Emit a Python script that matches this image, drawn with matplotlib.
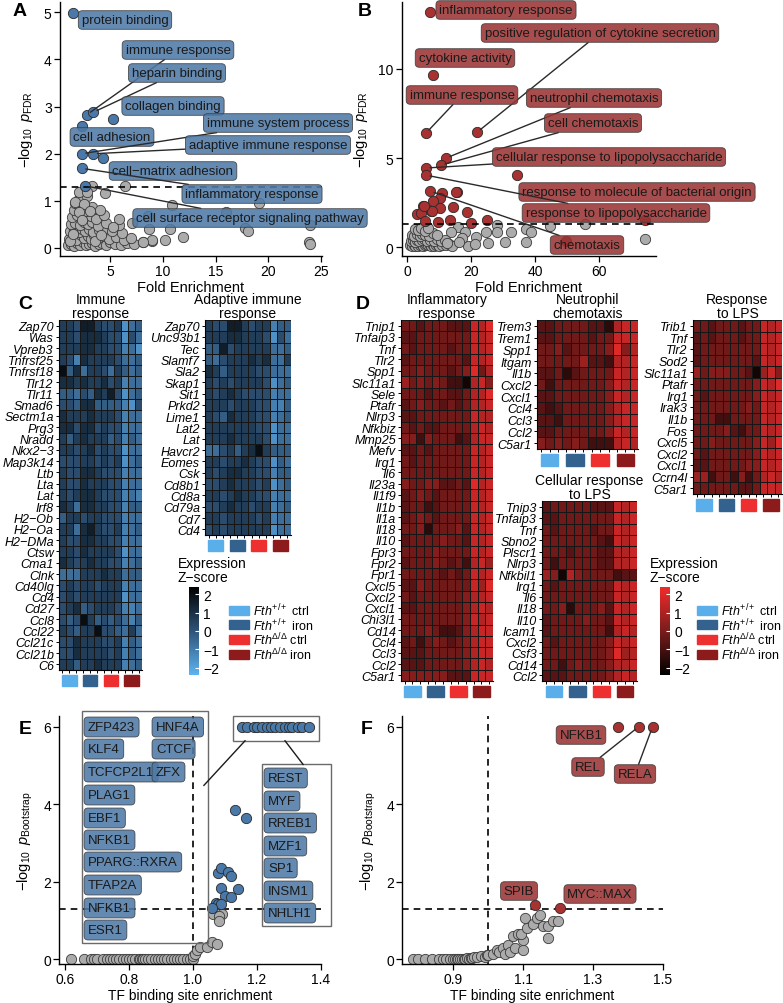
import matplotlib
matplotlib.use('Agg')
import matplotlib.pyplot as plt
import numpy as np
from matplotlib.colors import LinearSegmentedColormap, Normalize
from matplotlib.cm import ScalarMappable
from matplotlib.patches import Rectangle

plt.rcParams['font.family'] = ['Liberation Sans', 'DejaVu Sans']
plt.rcParams['mathtext.fontset'] = 'custom'
plt.rcParams['mathtext.rm'] = 'Liberation Sans'
plt.rcParams['mathtext.it'] = 'Liberation Sans:italic'

W, H = 783, 1004

# ---------------- panel A : GO enrichment, blue ----------------
A_terms = ['protein binding', 'immune response', 'heparin binding', 'collagen binding',
           'cell adhesion', 'immune system process', 'adaptive immune response',
           'cell\u2212matrix adhesion', 'inflammatory response',
           'cell surface receptor signaling pathway']
A_fold = [1.48, 2.8, 3.4, 5.3, 2.3, 2.3, 3.4, 4.35, 2.3, 2.6]
A_logp = [4.99, 2.83, 2.88, 2.73, 2.58, 2.0, 2.0, 1.92, 1.69, 1.32]
A_gray_x = [1.0, 1.3, 1.6, 1.9, 2.1, 2.4, 2.7, 3.0, 3.3, 3.6, 3.9, 4.2, 4.6, 5.0, 5.5, 6.0, 6.6, 7.3, 8.1, 9.0,
            1.1, 1.5, 1.8, 2.2, 2.5, 2.9, 3.2, 3.5, 3.8, 4.4, 4.9, 5.6, 6.3, 7.0,
            1.2, 1.6, 2.0, 2.3, 2.6, 3.0, 3.4, 3.9, 4.5, 5.2, 6.1,
            1.3, 1.7, 2.1, 2.5, 2.9, 3.3, 3.8, 4.6, 5.8,
            1.4, 1.9, 2.4, 2.8, 3.2, 3.7, 4.4, 1.6, 2.2, 2.7, 3.3, 4.0, 1.7, 2.5, 2.0, 2.8,
            3.25, 6.4, 2.0, 2.8, 4.5, 1.7, 2.5, 10.9, 19.1, 2.0, 3.1, 16.0, 8.6, 5.8, 7.1, 10.7,
            17.8, 24.0, 8.7, 18.1, 11.9, 10.2, 9.0, 8.1, 23.9, 24.0, 1.2, 1.5, 2.3, 3.6, 4.1, 5.3]
A_gray_y = [0.06, 0.08, 0.05, 0.1, 0.07, 0.12, 0.06, 0.09, 0.11, 0.05, 0.08, 0.1, 0.07, 0.12, 0.09, 0.06, 0.1, 0.08, 0.12, 0.15,
            0.2, 0.24, 0.18, 0.27, 0.21, 0.25, 0.19, 0.28, 0.22, 0.26, 0.2, 0.24, 0.18, 0.22,
            0.35, 0.38, 0.33, 0.41, 0.36, 0.4, 0.34, 0.38, 0.42, 0.36, 0.32,
            0.5, 0.53, 0.48, 0.56, 0.5, 0.55, 0.47, 0.52, 0.49,
            0.66, 0.7, 0.64, 0.72, 0.67, 0.62, 0.69, 0.8, 0.84, 0.78, 0.86, 0.81, 0.95, 0.93, 1.05, 1.1,
            1.32, 1.31, 1.19, 1.18, 1.16, 0.97, 0.93, 0.91, 0.95, 0.76, 0.78, 0.76, 0.68, 0.61, 0.53, 0.4,
            0.42, 0.49, 0.4, 0.37, 0.23, 0.17, 0.17, 0.13, 0.13, 0.08, 0.14, 0.3, 0.6, 0.15, 0.28, 0.45]

# ---------------- panel B : GO enrichment, red ----------------
B_terms = ['inflammatory response', 'positive regulation of cytokine secretion',
           'cytokine activity', 'immune response', 'neutrophil chemotaxis', 'cell chemotaxis',
           'cellular response to lipopolysaccharide', 'response to molecule of bacterial origin',
           'response to lipopolysaccharide', 'chemotaxis']
B_fold = [7.2, 21.9, 8.1, 5.9, 12.2, 10.6, 5.9, 34.4, 5.9, 7.2]
B_logp = [13.2, 6.45, 9.66, 6.4, 5.0, 4.6, 4.44, 4.04, 4.04, 3.15]
B_red_x = [10.9, 15.6, 10.3, 8.1, 5.0, 14.4, 10.3, 7.5, 18.8, 3.1, 4.2, 5.6, 13.4, 25.0, 20.0,
           74.4, 9.7, 7.8, 5.3, 49.7, 15.3]
B_red_y = [3.03, 3.1, 2.75, 2.6, 2.3, 2.25, 2.2, 2.0, 1.97, 1.86, 1.9, 1.46, 1.5, 1.5, 1.35,
           1.5, 1.4, 2.0, 2.3, 0.34, 3.1]
B_gray_x = [44.6, 55.6, 74.4, 37.2, 28.0, 28.0, 30.7, 32.6, 37.2, 38.7, 24.7, 25.3, 21.6, 19.1, 21.3,
            15.9, 18.1, 13.8, 1.0, 1.5, 2.0, 2.5, 3.0, 3.5, 4.0, 4.5, 5.0, 5.5, 6.0, 6.5, 7.0, 7.5,
            8.0, 8.5, 9.0, 9.5, 10.0, 11.0, 12.0, 13.0, 14.0, 1.2, 1.8, 2.4, 3.2, 3.8, 4.6, 5.4,
            6.2, 7.1, 8.3, 9.4, 10.6, 11.8, 1.5, 2.2, 3.0, 3.9, 4.8, 5.7, 6.8, 8.0, 9.2, 2.6,
            3.4, 4.4, 5.5, 6.6, 17.0, 12.5, 16.2]
B_gray_y = [1.17, 1.3, 0.45, 0.28, 1.24, 0.84, 0.28, 0.84, 1.0, 0.84, 0.84, 0.22, 0.56, 0.06, 0.17,
            1.12, 0.84, 0.84, 0.1, 0.05, 0.12, 0.08, 0.15, 0.06, 0.1, 0.13, 0.07, 0.11, 0.16, 0.09, 0.12, 0.05,
            0.14, 0.08, 0.1, 0.13, 0.06, 0.11, 0.09, 0.15, 0.07, 0.35, 0.4, 0.3, 0.42, 0.33, 0.38, 0.45,
            0.36, 0.4, 0.32, 0.44, 0.37, 0.41, 0.7, 0.65, 0.75, 0.62, 0.72, 0.68, 0.6, 0.78, 0.66, 1.0,
            0.95, 1.05, 0.9, 1.1, 0.5, 0.25, 0.3]

# ---------------- heatmaps (one digit per cell: 0 = -2 ... 9 = +2 z-score) ----------------
immune_genes = ['Zap70', 'Was', 'Vpreb3', 'Tnfrsf25', 'Tnfrsf18', 'Tlr12', 'Tlr11', 'Smad6', 'Sectm1a',
                'Prg3', 'Nradd', 'Nkx2\u22123', 'Map3k14', 'Ltb', 'Lta', 'Lat', 'Irf8', 'H2\u2212Ob',
                'H2\u2212Oa', 'H2\u2212DMa', 'Ctsw', 'Cma1', 'Clnk', 'Cd40lg', 'Cd4', 'Cd27', 'Ccl8',
                'Ccl22', 'Ccl21c', 'Ccl21b', 'C6']
immune_z = ['665886556134', '665777655153', '666776655231', '652766665334', '947366536434',
            '776766756233', '443547685134', '554774444215', '766676665233', '775775655233',
            '646766645243', '665675655133', '555665656134', '655776555233', '655766655233',
            '656776555232', '763776655244', '466566555233', '663786556234', '655776655233',
            '665766665133', '765676655234', '333666766344', '565665666233', '565666666133',
            '567456665223', '545964545324', '654669554363', '557666556243', '557666656243',
            '664667666234']
adaptive_genes = ['Zap70', 'Unc93b1', 'Tec', 'Slamf7', 'Sla2', 'Skap1', 'Sit1', 'Prkd2', 'Lime1',
                  'Lat2', 'Lat', 'Havcr2', 'Eomes', 'Csk', 'Cd8b1', 'Cd8a', 'Cd79a', 'Cd7', 'Cd4']
adaptive_z = ['655886566244', '666776665153', '448566666334', '435666767336', '764666655333',
              '656566665134', '656765555233', '666566655224', '654766655234', '666666655133',
              '666766665133', '335646796444', '665667655143', '656776655244', '556766656134',
              '665676655233', '556766566234', '665666656233', '565666666133']
inflam_genes = ['Tnip1', 'Tnfaip3', 'Tnf', 'Tlr2', 'Spp1', 'Slc11a1', 'Sele', 'Ptafr', 'Nlrp3', 'Nfkbiz',
                'Mmp25', 'Mefv', 'Irg1', 'Il6', 'Il23a', 'Il1f9', 'Il1b', 'Il1a', 'Il18', 'Il10', 'Fpr3',
                'Fpr2', 'Fpr1', 'Cxcl5', 'Cxcl2', 'Cxcl1', 'Chi3l1', 'Cd14', 'Ccl4', 'Ccl3', 'Ccl2', 'C5ar1']
inflam_z = ['443444333879', '334444444878', '434444344878', '344444443878', '445444345947',
            '645454220785', '444344334779', '345443434778', '334444444877', '434334444787',
            '552544423788', '334344444878', '434444444878', '444444444878', '544553343978',
            '345434444878', '344234444878', '345434444878', '445144453878', '344445443878',
            '444454444878', '344454342786', '444443434878', '335444444869', '434444445778',
            '334444445787', '444444445878', '444542235788', '342454345788', '333444445788',
            '333444445787', '555555333888']
neutro_genes = ['Trem3', 'Trem1', 'Spp1', 'Itgam', 'Il1b', 'Cxcl2', 'Cxcl1', 'Ccl4', 'Ccl3', 'Ccl2', 'C5ar1']
neutro_z = ['334444331788', '334444344888', '445344445957', '444446332778', '334134444878',
            '424444445878', '334444445878', '323444445788', '332444445788', '334444445878',
            '545454222787']
lps_genes = ['Trib1', 'Tnf', 'Tlr2', 'Sod2', 'Slc11a1', 'Ptafr', 'Irg1', 'Irak3', 'Il1b', 'Fos',
             'Cxcl5', 'Cxcl2', 'Cxcl1', 'Ccrn4l', 'C5ar1']
lps_z = ['443444344878', '343444344878', '344444444878', '344444443878', '645554430685',
         '444444445879', '434444445878', '444444454878', '444224444878', '444453244878',
         '445444445869', '434444445878', '334444455878', '662442524787', '444444334888']
cell_genes = ['Tnip3', 'Tnfaip3', 'Tnf', 'Sbno2', 'Plscr1', 'Nlrp3', 'Nfkbil1', 'Irg1', 'Il6', 'Il18',
              'Il10', 'Icam1', 'Cxcl2', 'Csf3', 'Cd14', 'Ccl2']
cell_z = ['344444333878', '334444444878', '434444344878', '444444432878', '444344433778',
          '424444433778', '650754444233', '434444444878', '444444444878', '445144453878',
          '344445443878', '344444442787', '434444445878', '444444445967', '442454445778',
          '333444445787']

groups = ['$\\mathit{Fth}^{+/+}$ ctrl', '$\\mathit{Fth}^{+/+}$ iron',
          '$\\mathit{Fth}^{\\Delta/\\Delta}$ ctrl', '$\\mathit{Fth}^{\\Delta/\\Delta}$ iron']
group_colors = ['#5aaeea', '#33628f', '#ee2f2f', '#8e1b1b']

# ---------------- panels E / F : TF binding site enrichment ----------------
E_gray_x = [0.62, 0.66, 0.68, 0.69, 0.70, 0.72, 0.73, 0.74, 0.75, 0.76, 0.77, 0.78, 0.79, 0.80, 0.81,
            0.82, 0.83, 0.835, 0.84, 0.845, 0.85, 0.86, 0.87, 0.88, 0.89, 0.90, 0.91, 0.92, 0.93,
            0.94, 0.95, 0.96, 0.97, 0.98, 0.99, 1.0, 1.0, 1.005, 1.012, 1.022, 1.043, 1.058, 1.074,
            1.063, 1.09, 1.08, 1.08]
E_gray_y = [0.0, 0.0, 0.0, 0.0, 0.0, 0.0, 0.0, 0.0, 0.0, 0.0, 0.0, 0.0, 0.0, 0.0, 0.0,
            0.0, 0.0, 0.0, 0.0, 0.0, 0.0, 0.0, 0.0, 0.0, 0.0, 0.0, 0.0, 0.0, 0.0,
            0.0, 0.0, 0.0, 0.0, 0.0, 0.0, 0.0, 0.08, 0.15, 0.23, 0.33, 0.33, 0.44, 0.39,
            1.18, 1.18, 1.12, 0.98]
E_sig_x = [1.153, 1.17, 1.191, 1.20, 1.216, 1.231, 1.245, 1.256, 1.272, 1.288, 1.30, 1.309, 1.328,
           1.341, 1.363, 1.131, 1.165, 1.078, 1.087, 1.11, 1.12, 1.087, 1.141, 1.10, 1.12, 1.072,
           1.078, 1.088, 1.06]
E_sig_y = [6.0, 6.0, 6.0, 6.0, 6.0, 6.0, 6.0, 6.0, 6.0, 6.0, 6.0, 6.0, 6.0,
           6.0, 6.0, 3.85, 3.64, 2.23, 2.36, 2.26, 2.15, 1.85, 1.82, 1.63, 1.6, 1.46,
           1.42, 1.44, 1.33]
E_box_left = ['ZFP423', 'HNF4A', 'KLF4', 'CTCF', 'TCFCP2L1', 'ZFX', 'PLAG1', 'EBF1', 'NFKB1',
              'PPARG::RXRA', 'TFAP2A', 'NFKB1', 'ESR1']
E_box_right = ['REST', 'MYF', 'RREB1', 'MZF1', 'SP1', 'INSM1', 'NHLH1']

F_gray_x = [0.786, 0.80, 0.82, 0.84, 0.86, 0.87, 0.88, 0.89, 0.90, 0.905, 0.91, 0.915, 0.92, 0.925,
            0.93, 0.935, 0.94, 0.945, 0.95, 0.955, 0.96, 0.967, 0.98, 0.99, 0.997, 1.0, 1.014,
            1.025, 1.03, 1.043, 1.047, 1.057, 1.064, 1.077, 1.1, 1.1, 1.071, 1.086, 1.094, 1.111,
            1.106, 1.129, 1.14, 1.149, 1.157, 1.171, 1.171, 1.186, 1.2]
F_gray_y = [0.0, 0.0, 0.0, 0.0, 0.0, 0.0, 0.0, 0.0, 0.0, 0.01, 0.0, 0.01, 0.02, 0.01,
            0.02, 0.01, 0.03, 0.02, 0.03, 0.04, 0.05, 0.06, 0.08, 0.07, 0.1, 0.12, 0.15,
            0.23, 0.2, 0.3, 0.15, 0.36, 0.2, 0.3, 0.23, 0.49, 0.61, 0.65, 0.65, 0.82,
            1.08, 0.92, 1.08, 1.15, 0.87, 0.87, 0.56, 1.0, 1.0]
F_terms = ['NFKB1', 'REL', 'RELA', 'SPIB', 'MYC::MAX']
F_sig_x = [1.371, 1.43, 1.47, 1.134, 1.206]
F_sig_y = [6.0, 6.0, 6.0, 1.41, 1.33]

# ---------------- drawing ----------------
fig = plt.figure(figsize=(W / 100, H / 100), dpi=100)

blue_map = LinearSegmentedColormap.from_list('bz', ['#5eb3f0', '#2f5478', '#000000'])
red_map = LinearSegmentedColormap.from_list('rz', ['#000000', '#7a1c1c', '#f22b2b'])
BLUE, RED, GRAY = '#4a78a8', '#a83232', '#ababab'


def px_axes(x0, y0, x1, y1):
    return fig.add_axes([x0 / W, 1 - y1 / H, (x1 - x0) / W, (y1 - y0) / H])


def classic(ax):
    for s in ['top', 'right']:
        ax.spines[s].set_visible(False)
    for s in ['left', 'bottom']:
        ax.spines[s].set_linewidth(1.0)
    ax.tick_params(labelsize=10, length=4, width=0.9, colors='black', pad=2)


def label(ax, text, xy, pos, face, line=True):
    ax.annotate(text, xy=xy, xytext=(pos[0], H - pos[1]), textcoords='figure pixels',
                ha='center', va='center', fontsize=9.5, color='#1a1a1a', zorder=6,
                bbox=dict(boxstyle='round,pad=0.25,rounding_size=0.3', fc=face, ec='#3a3a3a',
                          lw=0.6, alpha=0.88),
                arrowprops=dict(arrowstyle='-', color='#2a2a2a', lw=1.0, shrinkA=0, shrinkB=3)
                if line else None, annotation_clip=False)


def panel_letter(x, y, t):
    fig.text(x / W, 1 - y / H, t, fontsize=14, fontweight='bold', ha='center', va='center')


# A
ax = px_axes(60, 3, 322, 257)
classic(ax)
ax.scatter(A_gray_x, A_gray_y, s=55, c=GRAY, edgecolors='#3a3a3a', linewidths=0.6, zorder=2)
ax.scatter(A_fold, A_logp, s=55, c=BLUE, edgecolors='#2a2a2a', linewidths=0.6, zorder=3)
ax.axhline(1.3, color='black', ls=(0, (4, 3)), lw=1.2, zorder=4)
ax.set_xlim(0.24, 25.1)
ax.set_ylim(-0.17, 5.22)
ax.set_xticks([5, 10, 15, 20, 25])
ax.set_yticks([0, 1, 2, 3, 4, 5])
ax.set_xlabel('Fold Enrichment', fontsize=10.5, labelpad=1)
ax.set_ylabel('$-\\log_{10}\\ p_{\\mathrm{FDR}}$', fontsize=10.5, labelpad=6)
A_pos = [(125, 21), (178, 51), (177, 74), (173, 107), (112, 138), (278, 124), (268, 146),
         (173, 172), (252, 195), (250, 219)]
A_line = [0, 1, 1, 0, 0, 1, 1, 0, 1, 1]
for t, x, y, p, l in zip(A_terms, A_fold, A_logp, A_pos, A_line):
    label(ax, t, (x, y), p, '#4f7aa6', bool(l))
panel_letter(20, 12, 'A')

# B
ax = px_axes(402, 3, 656, 257)
classic(ax)
ax.scatter(B_gray_x, B_gray_y, s=55, c=GRAY, edgecolors='#3a3a3a', linewidths=0.6, zorder=2)
ax.scatter(B_red_x, B_red_y, s=55, c=RED, edgecolors='#2a2a2a', linewidths=0.6, zorder=3)
ax.scatter(B_fold, B_logp, s=55, c=RED, edgecolors='#2a2a2a', linewidths=0.6, zorder=3)
ax.axhline(1.3, color='black', ls=(0, (4, 3)), lw=1.2, zorder=4)
ax.set_xlim(-1.6, 77.8)
ax.set_ylim(-0.5, 13.76)
ax.set_xticks([0, 20, 40, 60])
ax.set_yticks([0, 5, 10])
ax.set_xlabel('Fold Enrichment', fontsize=10.5, labelpad=1)
ax.set_ylabel('$-\\log_{10}\\ p_{\\mathrm{FDR}}$', fontsize=10.5, labelpad=6)
B_pos = [(506, 11), (600, 34), (465, 59), (462, 96), (594, 99), (593, 124), (609, 158),
         (637, 193), (616, 214), (587, 246)]
B_line = [0, 1, 0, 1, 1, 1, 1, 0, 1, 1]
for t, x, y, p, l in zip(B_terms, B_fold, B_logp, B_pos, B_line):
    label(ax, t, (x, y), p, '#9b3434', bool(l))
panel_letter(365, 12, 'B')


# heatmaps
def heatmap(box, genes, rows, cmap, title):
    ax = px_axes(*box)
    Z = np.array([[(int(c) - 4.5) / 2.25 for c in r] for r in rows])
    n = len(genes)
    ax.pcolormesh(Z, cmap=cmap, vmin=-2.4, vmax=2.4, edgecolors='#161616', linewidth=0.4)
    ax.set_xlim(0, 12)
    ax.set_ylim(n, 0)
    ax.set_yticks(np.arange(n) + 0.5)
    ax.set_yticklabels(genes, fontstyle='italic', fontsize=9)
    ax.set_xticks(np.arange(12) + 0.5)
    ax.set_xticklabels([])
    ax.tick_params(length=2.5, width=0.7, pad=1.2)
    for s in ['top', 'right']:
        ax.spines[s].set_visible(False)
    for g in range(4):
        ax.add_patch(Rectangle((3 * g + 0.45, n + 0.45), 2.1, 1.0, color=group_colors[g],
                               clip_on=False))
    ax.set_title(title, fontsize=10, pad=2, linespacing=1.0)
    return ax


heatmap((59, 321, 142, 671), immune_genes, immune_z, blue_map, 'Immune\nresponse')
heatmap((205, 321, 291, 536), adaptive_genes, adaptive_z, blue_map, 'Adaptive immune\nresponse')
heatmap((401, 321, 493, 682), inflam_genes, inflam_z, red_map, 'Inflammatory\nresponse')
heatmap((537, 321, 638, 450), neutro_genes, neutro_z, red_map, 'Neutrophil\nchemotaxis')
heatmap((693, 321, 782, 495), lps_genes, lps_z, red_map, 'Response\nto LPS')
heatmap((542, 502, 637, 682), cell_genes, cell_z, red_map, 'Cellular response\nto LPS')
panel_letter(25, 305, 'C')
panel_letter(363, 305, 'D')


def legend(x_text, x_bar, x_key, cmap):
    fig.text(x_text / W, 1 - 571 / H, 'Expression\nZ\u2212score', fontsize=10, va='center',
             ha='left', linespacing=1.05)
    cax = px_axes(x_bar, 588, x_bar + 10, 676)
    cb = fig.colorbar(ScalarMappable(norm=Normalize(-2.4, 2.4), cmap=cmap), cax=cax,
                      ticks=[-2, -1, 0, 1, 2])
    cb.outline.set_visible(False)
    cb.ax.set_yticklabels(['\u22122', '\u22121', '0', '1', '2'])
    cb.ax.tick_params(labelsize=10, color='white', direction='in', length=3, pad=3)
    for i, (g, c) in enumerate(zip(groups, group_colors)):
        yc = 611 + i * 14.7
        fig.add_artist(Rectangle((x_key / W, 1 - (yc + 4.5) / H), 20 / W, 9 / H, color=c,
                                 transform=fig.transFigure))
        fig.text((x_key + 24) / W, 1 - yc / H, g, fontsize=9, va='center', ha='left')


legend(178, 189, 229, blue_map)
legend(650, 660, 697, red_map)

# E
ax = px_axes(59, 717, 321, 965)
classic(ax)
ax.tick_params(pad=1.5)
ax.axhline(1.3, color='black', ls=(0, (4, 3)), lw=1.2, zorder=1)
ax.axvline(1.0, color='black', ls=(0, (4, 3)), lw=1.2, zorder=1)
ax.scatter(E_gray_x, E_gray_y, s=55, c=GRAY, edgecolors='#3a3a3a', linewidths=0.6, zorder=2)
ax.scatter(E_sig_x, E_sig_y, s=55, c=BLUE, edgecolors='#2a2a2a', linewidths=0.6, zorder=3)
ax.set_xlim(0.581, 1.4)
ax.set_ylim(-0.12, 6.28)
ax.set_xticks([0.6, 0.8, 1.0, 1.2, 1.4])
ax.set_xticklabels(['0.6', '0.8', '1.0', '1.2', '1.4'])
ax.set_yticks([0, 2, 4, 6])
ax.set_ylabel('$-\\log_{10}\\ p_{\\mathrm{Bootstrap}}$', fontsize=10.5, labelpad=6)
fig.text(190 / W, 1 - 996 / H, 'TF binding site enrichment', fontsize=10, ha='center', va='center')
for (x0, y0, x1, y1) in [(0.653, 0.41, 1.047, 6.4), (1.125, 5.64, 1.394, 6.28),
                         (1.216, 0.87, 1.43, 5.03)]:
    ax.add_patch(Rectangle((x0, y0), x1 - x0, y1 - y0, fill=False, ec='#6a6a6a', lw=1.0,
                           clip_on=False, zorder=4))
ax.plot([1.1625, 1.034], [5.64, 4.49], color='#1a1a1a', lw=1.0, clip_on=False, zorder=4)
ax.plot([1.2875, 1.344], [5.64, 5.03], color='#1a1a1a', lw=1.0, clip_on=False, zorder=4)
E_left_pos = [(88, 728), (156, 728), (88, 750), (156, 750), (88, 773), (156, 773), (88, 796),
              (88, 819), (88, 841), (88, 863), (88, 886), (88, 909), (88, 931)]
E_right_pos = [(268, 779), (268, 802), (268, 824), (268, 847), (268, 869), (268, 892), (268, 914)]
for t, p in zip(E_box_left + E_box_right, E_left_pos + E_right_pos):
    fig.text(p[0] / W, 1 - p[1] / H, t, fontsize=9.5, ha='left', va='center', color='#1a1a1a',
             zorder=6, bbox=dict(boxstyle='round,pad=0.3,rounding_size=0.3', fc='#4f7aa6',
                                 ec='#3a3a3a', lw=0.6, alpha=0.88))
panel_letter(25, 730, 'E')

# F
ax = px_axes(402, 717, 663, 965)
classic(ax)
ax.tick_params(pad=1.5)
ax.axhline(1.3, color='black', ls=(0, (4, 3)), lw=1.2, zorder=1)
ax.axvline(1.0, color='black', ls=(0, (4, 3)), lw=1.2, zorder=1)
ax.scatter(F_gray_x, F_gray_y, s=55, c=GRAY, edgecolors='#3a3a3a', linewidths=0.6, zorder=2)
ax.scatter(F_sig_x, F_sig_y, s=55, c=RED, edgecolors='#2a2a2a', linewidths=0.6, zorder=3)
ax.set_xlim(0.754, 1.5)
ax.set_ylim(-0.12, 6.28)
ax.set_xticks([0.9, 1.1, 1.3, 1.5])
ax.set_yticks([0, 2, 4, 6])
ax.set_ylabel('$-\\log_{10}\\ p_{\\mathrm{Bootstrap}}$', fontsize=10.5, labelpad=6)
fig.text(532 / W, 1 - 996 / H, 'TF binding site enrichment', fontsize=10, ha='center', va='center')
F_pos = [(581, 736), (588, 768), (635, 775), (519, 892), (600, 895)]
F_line = [0, 1, 1, 0, 0]
for t, x, y, p, l in zip(F_terms, F_sig_x, F_sig_y, F_pos, F_line):
    label(ax, t, (x, y), p, '#9b3434', bool(l))
panel_letter(367, 730, 'F')

fig.savefig('out.png', dpi=100)
